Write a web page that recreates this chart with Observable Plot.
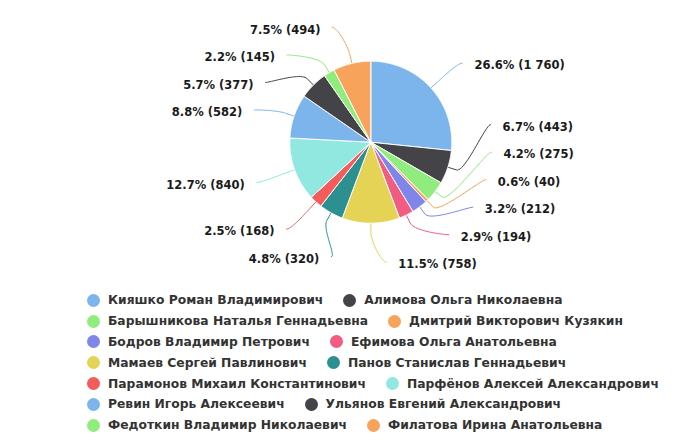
<!DOCTYPE html>
<html><head><meta charset="utf-8">
<script src="https://cdn.jsdelivr.net/npm/d3@7"></script>
<script src="https://cdn.jsdelivr.net/npm/@observablehq/plot@0.6"></script>
<style>
body{margin:0;background:#fff;font-family:"DejaVu Sans",sans-serif;}
#chart{width:686px;height:446px;position:relative;overflow:hidden;background:#fff}
#chart svg{display:block}
.legend{position:absolute;left:87px;top:290px;}
.row{display:flex;align-items:center;height:20.8px;white-space:nowrap}
.item{display:flex;align-items:center;margin-right:20px;font-size:12.3px;font-weight:bold;color:#333}
.dot{width:13px;height:13px;border-radius:50%;margin-right:8px;flex:none}
</style></head><body><div id="chart"></div>
<script>
// ---- data ----
const names = [
  "Кияшко Роман Владимирович",
  "Алимова Ольга Николаевна",
  "Барышникова Наталья Геннадьевна",
  "Дмитрий Викторович Кузякин",
  "Бодров Владимир Петрович",
  "Ефимова Ольга Анатольевна",
  "Мамаев Сергей Павлинович",
  "Панов Станислав Геннадьевич",
  "Парамонов Михаил Константинович",
  "Парфёнов Алексей Александрович",
  "Ревин Игорь Алексеевич",
  "Ульянов Евгений Александрович",
  "Федоткин Владимир Николаевич",
  "Филатова Ирина Анатольевна"
];
const votes = [1760, 443, 275, 40, 212, 194, 758, 320, 168, 840, 582, 377, 145, 494];
const colors = ["#7cb5ec","#434348","#90ed7d","#f7a35c","#8085e9","#f15c80","#e4d354","#2b908f","#f45b5b","#91e8e1","#7cb5ec","#434348","#90ed7d","#f7a35c"];

// ---- layout ----
const W = 686, H = 290;
const cx = 370.3, cy = 141.7, r = 81;
const Ry = 118, Rx = 121, gap = 27.5, ymin = cy - 115, ymax = cy + 120;

const total = d3.sum(votes);
const fmtNum = v => d3.format(",")(v).replace(/,/g, " ");
const data = names.map((name, i) => ({name, votes: votes[i], i}));
const arcs = d3.pie().sort(null).value(d => d.votes)(data);
const pt = (a, rho) => [cx + rho * Math.sin(a), cy - rho * Math.cos(a)];

// slice polygons
const slicePts = [];
arcs.forEach(a => {
  const n = Math.max(2, Math.ceil((a.endAngle - a.startAngle) / (Math.PI / 360)));
  slicePts.push({name: a.data.name, x: cx, y: cy});
  for (let k = 0; k <= n; k++) {
    const t = a.startAngle + (a.endAngle - a.startAngle) * k / n;
    const [x, y] = pt(t, r);
    slicePts.push({name: a.data.name, x, y});
  }
  slicePts.push({name: a.data.name, x: cx, y: cy});
});

// labels
const labels = arcs.map(a => {
  const mid = (a.startAngle + a.endAngle) / 2;
  return {
    name: a.data.name, mid,
    right: mid < Math.PI,
    ny: cy - Ry * Math.cos(mid),
    text: (a.data.votes / total * 100).toFixed(1) + "% (" + fmtNum(a.data.votes) + ")"
  };
});
for (const side of [true, false]) {
  const L = labels.filter(d => d.right === side).sort((p, q) => p.ny - q.ny);
  L.forEach((d, i) => { d.y = Math.max(d.ny, ymin); if (i) d.y = Math.max(d.y, L[i-1].y + gap); });
  L.forEach(d => d.y = Math.min(d.y, ymax));
  for (let i = L.length - 2; i >= 0; i--) L[i].y = Math.min(L[i].y, L[i+1].y - gap);
}
labels.forEach(d => {
  const dx = Math.sqrt(Math.max(0, Rx * Rx - (d.y - cy) ** 2));
  d.x = d.right ? cx + dx : cx - dx;
  d.tx = d.right ? d.x + 12 : d.x - 12;
  d.ty = d.y + 2.5;
});

// connectors (soft bezier like the original)
const connPts = [];
labels.forEach(d => {
  const [tX, tY] = pt(d.mid, r);
  const [bX, bY] = pt(d.mid, r + 9);
  const p0 = [d.x, d.y], p1 = [d.x + (d.right ? -5 : 5), d.y], p2 = [2*bX - tX, 2*bY - tY], p3 = [bX, bY];
  for (let k = 0; k <= 24; k++) {
    const t = k / 24, u = 1 - t;
    const x = u*u*u*p0[0] + 3*u*u*t*p1[0] + 3*u*t*t*p2[0] + t*t*t*p3[0];
    const y = u*u*u*p0[1] + 3*u*u*t*p1[1] + 3*u*t*t*p2[1] + t*t*t*p3[1];
    connPts.push({name: d.name, x, y});
  }
  connPts.push({name: d.name, x: tX, y: tY});
});

const plot = Plot.plot({
  width: W, height: H, margin: 0,
  x: {domain: [0, W], range: [0, W], axis: null},
  y: {domain: [0, H], range: [0, H], axis: null},
  color: {domain: names, range: colors},
  style: {fontFamily: "DejaVu Sans, sans-serif", background: "white", overflow: "visible"},
  marks: [
    Plot.line(connPts, {x: "x", y: "y", z: "name", stroke: "name", strokeWidth: 1, curve: "linear"}),
    Plot.line(slicePts, {x: "x", y: "y", z: "name", fill: "name", stroke: "white", strokeWidth: 1, strokeLinejoin: "round", curve: "linear"}),
    Plot.text(labels.filter(d => d.right), {x: "tx", y: "ty", text: "text", textAnchor: "start", fontSize: 11.5, fontWeight: "bold", fill: "#1a1a1a"}),
    Plot.text(labels.filter(d => !d.right), {x: "tx", y: "ty", text: "text", textAnchor: "end", fontSize: 11.5, fontWeight: "bold", fill: "#1a1a1a"})
  ]
});
const chart = document.getElementById("chart");
chart.appendChild(plot);

// legend, two items per row as in the original
const color = plot.scale("color");
const legend = d3.select(chart).append("div").attr("class", "legend");
const rows = d3.range(0, names.length, 2).map(i => names.slice(i, i + 2));
rows.forEach(pair => {
  const row = legend.append("div").attr("class", "row");
  pair.forEach(n => {
    const it = row.append("div").attr("class", "item");
    it.append("span").attr("class", "dot").style("background", color.apply(n));
    it.append("span").text(n);
  });
});
</script>
</body></html>
